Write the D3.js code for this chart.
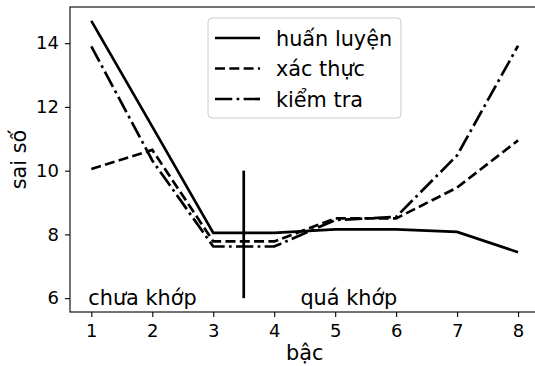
<!DOCTYPE html>
<html><head><meta charset="utf-8">
<script src="https://cdn.jsdelivr.net/npm/d3@7"></script>
<style>body{margin:0;background:#fff}svg{display:block;font-family:"DejaVu Sans",sans-serif}</style>
</head><body>
<svg id="c" width="535" height="366"></svg>
<script>
const degrees = [1, 2, 3, 4, 5, 6, 7, 8];
const trainErr = [14.7, 11.38, 8.05, 8.05, 8.16, 8.16, 8.08, 7.44];
const validErr = [10.05, 10.65, 7.78, 7.78, 8.5, 8.5, 9.47, 10.95];
const testErr = [13.9, 10.32, 7.62, 7.62, 8.45, 8.55, 10.48, 13.92];
const seriesNames = ["huấn luyện", "xác thực", "kiểm tra"];
const xTicks = [1, 2, 3, 4, 5, 6, 7, 8];
const yTicks = [6, 8, 10, 12, 14];
const divider = {x: 3.5, y0: 6, y1: 10};
const notes = [{x: 0.95, y: 5.78, text: "chưa khớp"}, {x: 4.43, y: 5.78, text: "quá khớp"}];

const svg = d3.select("#c");
const L = 70, R = 539.4, T = 7, B = 312;
const x = d3.scaleLinear().domain([0.65, 8.35]).range([L, R]);
const y = d3.scaleLinear().domain([5.565, 15.135]).range([B, T]);
const lw = 2.7;
const fs = 20.8, tfs = 18;
const dashes = ["none", `${3.7*lw},${1.6*lw}`, `${6.4*lw},${1.6*lw},${1*lw},${1.6*lw}`];
const data = [trainErr, validErr, testErr];

const line = d3.line().x((d, i) => x(degrees[i])).y(d => y(d));
data.forEach((s, k) => {
  svg.append("path").datum(s).attr("d", line).attr("fill", "none")
    .attr("stroke", "#000").attr("stroke-width", lw)
    .attr("stroke-dasharray", dashes[k]).attr("stroke-linejoin", "miter");
});
svg.append("line").attr("x1", x(divider.x)).attr("x2", x(divider.x))
  .attr("y1", y(divider.y0)).attr("y2", y(divider.y1))
  .attr("stroke", "#000").attr("stroke-width", lw);

notes.forEach(n => svg.append("text").attr("x", x(n.x)).attr("y", y(n.y))
  .attr("font-size", fs).attr("fill", "#000").text(n.text));

// axes
const xa = svg.append("g").attr("transform", `translate(0,${B})`)
  .call(d3.axisBottom(x).tickValues(xTicks).tickSize(5).tickPadding(7.5).tickFormat(d3.format("d")));
const ya = svg.append("g").attr("transform", `translate(${L},0)`)
  .call(d3.axisLeft(y).tickValues(yTicks).tickSize(5).tickPadding(6).tickFormat(d3.format("d")));
[xa, ya].forEach(g => {
  g.select(".domain").remove();
  g.selectAll(".tick line").attr("stroke", "#000").attr("stroke-width", 1.1);
  g.selectAll(".tick text").attr("font-size", tfs).attr("fill", "#000").attr("font-family", "DejaVu Sans");
});
// spines
svg.append("rect").attr("x", L).attr("y", T).attr("width", R - L).attr("height", B - T)
  .attr("fill", "none").attr("stroke", "#000").attr("stroke-width", 1.1);

svg.append("text").attr("x", (L + R) / 2).attr("y", 360).attr("text-anchor", "middle")
  .attr("font-size", fs).text("bậc");
svg.append("text").attr("transform", `translate(26,${(T + B) / 2}) rotate(-90)`)
  .attr("text-anchor", "middle").attr("font-size", fs).text("sai số");

// legend
const lg = svg.append("g");
lg.append("rect").attr("x", 208).attr("y", 18).attr("width", 193).attr("height", 100)
  .attr("rx", 4).attr("fill", "#fff").attr("fill-opacity", 0.8).attr("stroke", "#ccc").attr("stroke-width", 1);
seriesNames.forEach((name, k) => {
  const cy = 38 + k * 30.5;
  lg.append("line").attr("x1", 215).attr("x2", 260).attr("y1", cy).attr("y2", cy)
    .attr("stroke", "#000").attr("stroke-width", lw).attr("stroke-dasharray", dashes[k]);
  lg.append("text").attr("x", 276).attr("y", cy + 7.5).attr("font-size", fs).text(name);
});
</script>
</body></html>
